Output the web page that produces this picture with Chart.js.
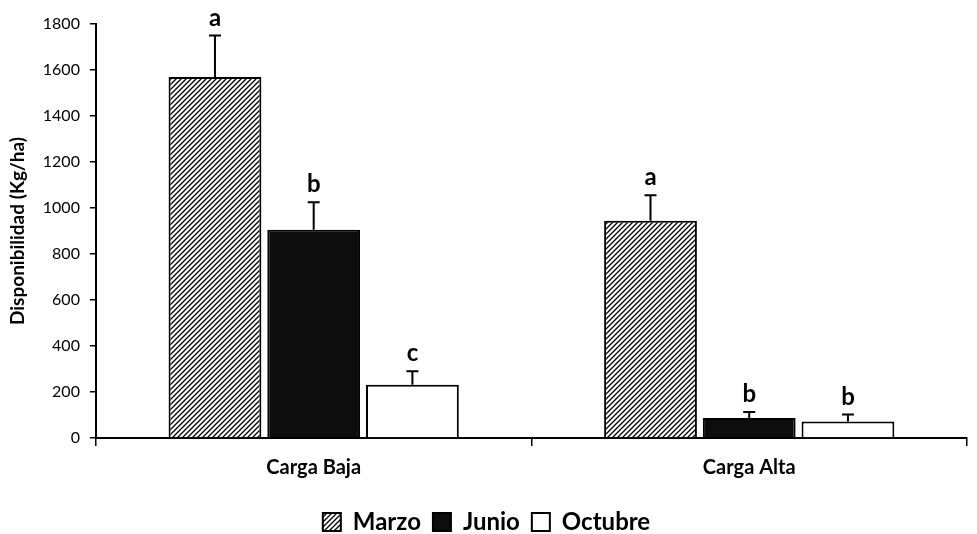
<!DOCTYPE html>
<html>
<head>
<meta charset="utf-8">
<script src="https://cdn.jsdelivr.net/npm/chart.js@4"></script>
<style>
  html, body { margin: 0; padding: 0; background: #fff; }
  #wrap { width: 977px; height: 534px; }
</style>
</head>
<body>
<div id="wrap"><canvas id="disponibilidad"></canvas></div>
<script>
// Data
const categories = ['Carga Baja', 'Carga Alta'];
const marzo = [1570, 945];
const junio = [905, 87];
const octubre = [232, 72];
const marzoErr = [180, 110];
const junioErr = [120, 26];
const octubreErr = [58, 30];
const marzoLetters = ['a', 'a'];
const junioLetters = ['b', 'b'];
const octubreLetters = ['c', 'b'];
const yTicks = [0, 200, 400, 600, 800, 1000, 1200, 1400, 1600, 1800];

const FONT = 'Lato, "Open Sans", sans-serif';

// Diagonal hatch for Marzo
function makeHatch() {
  const size = 5;
  const c = document.createElement('canvas');
  c.width = size;
  c.height = size;
  const g = c.getContext('2d');
  g.fillStyle = '#fff';
  g.fillRect(0, 0, size, size);
  g.strokeStyle = '#000';
  g.lineWidth = 1.3;
  g.beginPath();
  g.moveTo(0, size);
  g.lineTo(size, 0);
  g.moveTo(-1, 1);
  g.lineTo(1, -1);
  g.moveTo(size - 1, size + 1);
  g.lineTo(size + 1, size - 1);
  g.stroke();
  return g.createPattern(c, 'repeat');
}

// Error bars (upper only) and significance letters
const errorBarPlugin = {
  id: 'errorBars',
  afterDatasetsDraw(chart) {
    const ctx = chart.ctx;
    const yScale = chart.scales.y;
    chart.data.datasets.forEach((ds, di) => {
      const meta = chart.getDatasetMeta(di);
      meta.data.forEach((bar, i) => {
        const top = yScale.getPixelForValue(ds.data[i] + ds.errors[i]);
        ctx.save();
        ctx.strokeStyle = '#000';
        ctx.lineWidth = 2;
        ctx.beginPath();
        ctx.moveTo(bar.x, bar.y);
        ctx.lineTo(bar.x, top);
        ctx.moveTo(bar.x - 6, top);
        ctx.lineTo(bar.x + 6, top);
        ctx.stroke();
        ctx.fillStyle = '#000';
        ctx.font = 'bold 24px ' + FONT;
        ctx.textAlign = 'center';
        ctx.textBaseline = 'alphabetic';
        ctx.fillText(ds.letters[i], bar.x, top - 10);
        ctx.restore();
      });
    });
  },
};

const ctx = document.getElementById('disponibilidad').getContext('2d');
new Chart(ctx, {
  type: 'bar',
  data: {
    labels: categories,
    datasets: [
      {
        label: 'Marzo',
        data: marzo,
        errors: marzoErr,
        letters: marzoLetters,
        backgroundColor: makeHatch(),
        borderColor: '#000',
        borderWidth: 2,
      },
      {
        label: 'Junio',
        data: junio,
        errors: junioErr,
        letters: junioLetters,
        backgroundColor: '#0d0d0d',
        borderColor: '#000',
        borderWidth: 2,
      },
      {
        label: 'Octubre',
        data: octubre,
        errors: octubreErr,
        letters: octubreLetters,
        backgroundColor: '#fff',
        borderColor: '#000',
        borderWidth: 2,
      },
    ],
  },
  options: {
    responsive: true,
    maintainAspectRatio: false,
    animation: false,
    layout: { padding: { top: 24, right: 10, left: 6, bottom: -10 } },
    datasets: {
      bar: { categoryPercentage: 0.68, barPercentage: 0.94 },
    },
    plugins: {
      tooltip: { enabled: false },
      legend: {
        position: 'bottom',
        labels: {
          color: '#000',
          font: { family: FONT, size: 24, weight: 'bold' },
          boxWidth: 18,
          boxHeight: 18,
          padding: 12,
        },
      },
    },
    scales: {
      x: {
        border: { color: '#000', width: 2 },
        grid: {
          drawOnChartArea: false,
          color: '#000',
          lineWidth: 1.5,
          tickLength: 8,
        },
        ticks: {
          color: '#000',
          padding: 10,
          font: { family: FONT, size: 20, weight: 'bold' },
        },
        afterFit(scale) {
          scale.height += 8;
        },
      },
      y: {
        min: 0,
        max: 1800,
        afterBuildTicks(scale) {
          scale.ticks = yTicks.map((v) => ({ value: v }));
        },
        border: { color: '#000', width: 2 },
        grid: {
          drawOnChartArea: false,
          color: '#000',
          lineWidth: 1.5,
          tickLength: 6,
        },
        ticks: {
          color: '#000',
          padding: 10,
          font: { family: FONT, size: 16 },
          callback: (v) => String(v),
        },
        title: {
          display: true,
          text: 'Disponibilidad (Kg/ha)',
          color: '#000',
          padding: { top: 0, bottom: 4 },
          font: { family: FONT, size: 19, weight: 'bold' },
        },
      },
    },
  },
  plugins: [errorBarPlugin],
});
</script>
</body>
</html>
